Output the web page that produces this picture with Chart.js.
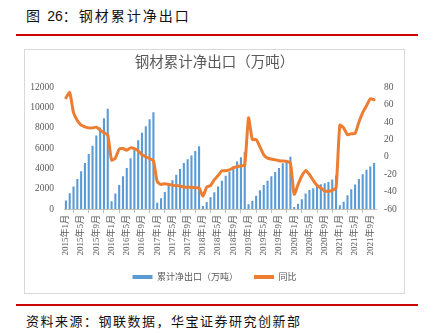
<!DOCTYPE html>
<html>
<head>
<meta charset="utf-8">
<script src="https://cdn.jsdelivr.net/npm/chart.js@4.4.1/dist/chart.umd.min.js"></script>
<style>
  body{margin:0;width:436px;height:333px;background:#fff;position:relative;overflow:hidden;font-family:'Noto Sans CJK SC',sans-serif;}
  #hd{position:absolute;left:26px;top:5px;font-size:14px;letter-spacing:2px;color:#111;}
  #hd b{font-family:'Liberation Sans',sans-serif;font-weight:normal;letter-spacing:0;}
  .rule{position:absolute;left:16px;width:402px;height:2px;background:#cc0000;}
  #box{position:absolute;left:24px;top:49px;width:381px;height:245px;box-sizing:border-box;border:1px solid #d9d9d9;}
  #src{position:absolute;left:26px;top:311px;font-size:13px;letter-spacing:1.5px;color:#111;}
</style>
</head>
<body>
<div id="hd">图 <b>26</b>：钢材累计净出口</div>
<div class="rule" style="top:34px"></div>
<div id="box"><canvas id="c" width="379" height="243"></canvas></div>
<div class="rule" style="top:304px"></div>
<div id="src">资料来源：钢联数据，华宝证券研究创新部</div>
<script>
/* 月度类目：2015年1月 ~ 2021年10月 */
var years=[2015,2016,2017,2018,2019,2020,2021];
var months=[];
years.forEach(function(y){for(var m=1;m<=12;m++){if(y===2021&&m>10) break;months.push(y+'年'+m+'月');}});

/* 累计净出口（万吨），按年累计 */
var net2015=[850,1560,2230,2950,3730,4550,5420,6250,7260,8050,8960,9900];
var net2016=[760,1520,2370,3220,4050,5000,5880,6780,7520,8170,8850,9560];
var net2017=[620,1070,1680,2270,2830,3370,3950,4540,4920,5280,5730,6200];
var net2018=[290,700,1150,1650,2220,2780,3270,3680,4200,4690,5110,5600];
var net2019=[460,810,1310,1850,2360,2800,3220,3660,4050,4520,4800,5150];
var net2020=[200,520,970,1520,1880,2050,2300,2450,2550,2670,2920,3300];
var net2021=[360,710,1360,1950,2430,2960,3420,3870,4190,4540];

/* 同比（%） */
var yoy2015=[68,74,51,42,36.5,34.6,33.4,33.4,34.2,30.8,27.8,25.1];
var yoy2016=[-3.6,-1.4,8.9,9.6,7.7,10.4,9.6,7,2.4,0.1,-1.8,-4.4];
var yoy2017=[-28.3,-31.7,-30.9,-31.7,-32.5,-33.2,-33.5,-34.7,-35,-35,-35.5,-35.8];
var yoy2018=[-45.3,-34.7,-33,-26.2,-21.5,-16,-16,-15,-12.7,-11.2,-10.5,-9.3];
var yoy2019=[44.8,20,20,11.5,2.4,-1.4,-2.5,-3.3,-4.4,-4.8,-5.2,-7];
var yoy2020=[-43,-32,-22,-15.8,-20.3,-27,-32.8,-35.8,-39.3,-39.6,-38.5,-35.5];
var yoy2021=[36.5,33.4,25.5,26.6,27,40,51,58.8,66.8,65.7];

var netExport=[].concat(net2015,net2016,net2017,net2018,net2019,net2020,net2021);
var yoy=[].concat(yoy2015,yoy2016,yoy2017,yoy2018,yoy2019,yoy2020,yoy2021);

var leftTicks=[0,2000,4000,6000,8000,10000,12000];
var rightTicks=[-60,-40,-20,0,20,40,60,80];

var GRAY='#595959';
var serif="'Liberation Serif','Noto Sans CJK SC',serif";

new Chart(document.getElementById('c'),{
  data:{
    labels:months,
    datasets:[
      {type:'bar',label:'累计净出口（万吨）',data:netExport,yAxisID:'y',order:1,
       backgroundColor:'#5b9bd5',borderWidth:0,barPercentage:0.55,categoryPercentage:1},
      {type:'line',label:'同比',data:yoy,yAxisID:'y1',order:0,
       borderColor:'#ed7d31',backgroundColor:'#ed7d31',borderWidth:3,pointRadius:0,tension:0.2,
       borderCapStyle:'round',borderJoinStyle:'round'}
    ]
  },
  options:{
    responsive:false,animation:false,devicePixelRatio:1,
    layout:{padding:{top:0,left:0,right:0,bottom:1.5}},
    plugins:{
      tooltip:{enabled:false},
      title:{display:true,text:'钢材累计净出口（万吨）',color:GRAY,
        font:{family:"'Noto Sans CJK SC',sans-serif",size:14.5,weight:'normal'},padding:{top:3,bottom:17}},
      legend:{position:'bottom',
        labels:{boxWidth:20,boxHeight:4,padding:16,color:GRAY,
          font:{family:"'Noto Sans CJK SC',sans-serif",size:9},
          sort:function(a,b){return a.datasetIndex-b.datasetIndex;},
          generateLabels:function(chart){
            return Chart.defaults.plugins.legend.labels.generateLabels(chart).map(function(it){it.lineWidth=0;return it;});
          }}}
    },
    scales:{
      x:{offset:true,
        grid:{display:true,drawOnChartArea:false,drawTicks:true,tickLength:4,color:'#bfbfbf',offset:true},
        border:{display:true,color:'#bfbfbf'},
        ticks:{autoSkip:false,minRotation:90,maxRotation:90,padding:2,color:GRAY,font:{family:serif,size:9},
          callback:function(v,i){return i%4===0?months[i]:null;}},
        afterFit:function(s){s.height=47.5;}},
      y:{position:'left',min:0,max:12000,
        afterBuildTicks:function(s){s.ticks=leftTicks.map(function(v){return {value:v};});},
        grid:{display:false,drawTicks:false},border:{display:false},
        ticks:{padding:10,color:GRAY,font:{family:serif,size:9.5},callback:function(v){return String(v);}},
        afterFit:function(s){s.width=39;}},
      y1:{position:'right',min:-60,max:80,
        afterBuildTicks:function(s){s.ticks=rightTicks.map(function(v){return {value:v};});},
        grid:{display:false,drawTicks:false},border:{display:false},
        ticks:{padding:8,color:GRAY,font:{family:serif,size:9.5},callback:function(v){return String(v);}},
        afterFit:function(s){s.width=28;}}
    }
  }
});
</script>
</body>
</html>
